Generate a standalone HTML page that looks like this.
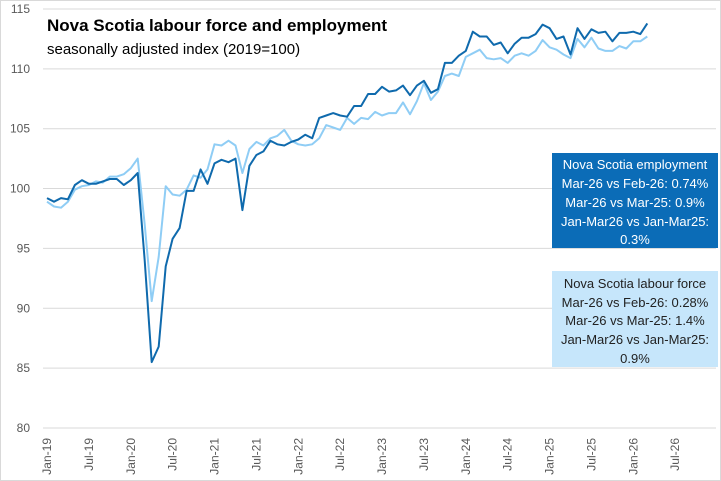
<!DOCTYPE html>
<html><head><meta charset="utf-8"><style>
body{margin:0;background:#fff;}
svg{display:block;font-family:"Liberation Sans",sans-serif;}
</style></head><body>
<svg id="s" width="721" height="481" viewBox="0 0 721 481">
<rect x="0.5" y="0.5" width="720" height="480" fill="#fff" stroke="#d9d9d9"/>
<g id="grid"></g>
<g id="lines"></g>
<text x="47" y="31" font-size="17" font-weight="bold" fill="#000">Nova Scotia labour force and employment</text>
<text x="47" y="54" font-size="15" fill="#000">seasonally adjusted index (2019=100)</text>
<rect x="552" y="153" width="166" height="95" fill="#0b6cb7"/>
<g font-size="13" fill="#fff" text-anchor="middle">
<text x="635" y="169">Nova Scotia employment</text>
<text x="635" y="188">Mar-26 vs Feb-26: 0.74%</text>
<text x="635" y="207">Mar-26 vs Mar-25: 0.9%</text>
<text x="635" y="226">Jan-Mar26 vs Jan-Mar25:</text>
<text x="635" y="244">0.3%</text>
</g>
<rect x="552" y="271" width="166" height="96" fill="#c6e6fb"/>
<g font-size="13" fill="#222" text-anchor="middle">
<text x="635" y="288">Nova Scotia labour force</text>
<text x="635" y="307">Mar-26 vs Feb-26: 0.28%</text>
<text x="635" y="325">Mar-26 vs Mar-25: 1.4%</text>
<text x="635" y="344">Jan-Mar26 vs Jan-Mar25:</text>
<text x="635" y="363">0.9%</text>
</g>
</svg>
<script>
var ns="http://www.w3.org/2000/svg";
function Y(v){return 9+(115-v)*11.97;}
function X(i){return 47+6.98*i;}
var g=document.getElementById("grid");
function el(t,a,p,txt){var e=document.createElementNS(ns,t);for(var k in a)e.setAttribute(k,a[k]);if(txt!=null)e.textContent=txt;p.appendChild(e);return e;}
for(var v=80;v<=115;v+=5){var y=Y(v);
el("line",{x1:43,x2:716,y1:y,y2:y,stroke:"#d9d9d9","stroke-width":1},g);
el("text",{x:30,y:y+4,"font-size":12,fill:"#595959","text-anchor":"end"},g,v);}
var labs=["Jan-19","Jul-19","Jan-20","Jul-20","Jan-21","Jul-21","Jan-22","Jul-22","Jan-23","Jul-23","Jan-24","Jul-24","Jan-25","Jul-25","Jan-26","Jul-26"];
for(var i=0;i<labs.length;i++){var x=X(i*6);
el("text",{transform:"translate("+(x+4)+",438) rotate(-90)","font-size":12,fill:"#595959","text-anchor":"end"},g,labs[i]);}
var emp=[99.2,98.9,99.2,99.1,100.3,100.7,100.4,100.4,100.6,100.8,100.8,100.3,100.7,101.3,94,85.5,86.8,93.5,95.8,96.7,99.8,99.8,101.6,100.4,102.1,102.4,102.2,102.5,98.2,101.9,102.8,103.1,104.0,103.7,103.6,103.9,104.1,104.5,104.2,105.9,106.1,106.3,106.1,106.0,106.9,106.9,107.9,107.9,108.5,108.1,108.2,108.6,107.8,108.6,109.0,108.0,108.3,110.5,110.5,111.1,111.5,113.1,112.7,112.7,112.0,112.2,111.3,112.1,112.6,112.6,112.9,113.7,113.4,112.5,112.7,111.2,113.4,112.5,113.3,113.0,113.1,112.3,113.0,113.0,113.1,112.9,113.8];
var lf=[98.9,98.5,98.4,98.9,99.9,100.2,100.3,100.6,100.5,101.0,101.0,101.2,101.7,102.5,97,90.6,94.3,100.2,99.5,99.4,99.9,101.1,100.9,101.6,103.7,103.6,104.0,103.6,101.3,103.3,103.9,103.6,104.2,104.4,104.9,104.0,103.7,103.6,103.7,104.2,105.3,105.1,104.9,105.9,105.4,105.9,105.8,106.4,106.1,106.3,106.3,107.2,106.2,107.3,108.8,107.4,108.1,109.4,109.6,109.4,111.0,111.3,111.6,110.9,110.8,110.9,110.5,111.1,111.3,111.1,111.5,112.4,111.8,111.6,111.2,110.9,112.5,111.8,112.6,111.7,111.5,111.5,111.9,111.7,112.3,112.3,112.7];
function pts(a){return a.map(function(v,i){return X(i).toFixed(1)+","+Y(v).toFixed(1)}).join(" ");}
var L=document.getElementById("lines");
el("polyline",{points:pts(lf),fill:"none",stroke:"#8fcdf5","stroke-width":2,"stroke-linejoin":"round"},L);
el("polyline",{points:pts(emp),fill:"none",stroke:"#0f6aad","stroke-width":2,"stroke-linejoin":"round"},L);
</script>
</body></html>
